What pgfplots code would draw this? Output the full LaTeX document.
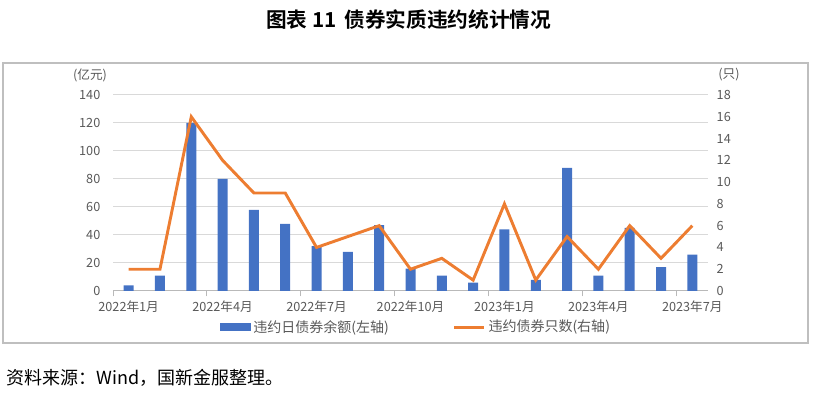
\documentclass[border=0pt]{standalone}
\usepackage{fontspec}
\setmainfont{Noto Sans CJK SC}[BoldFont={Noto Sans CJK SC Bold}]
\usepackage{pgfplots}
\usepackage{pgfplotstable}
\pgfplotsset{compat=1.18}
\definecolor{barblue}{HTML}{4472C4}
\definecolor{lineorange}{HTML}{ED7D31}
\definecolor{gridgray}{HTML}{D9D9D9}
\definecolor{ticktext}{HTML}{595959}
\definecolor{framegray}{HTML}{BFBFBF}
\pgfplotstableread{
x amt cnt
0 4 2
1 11 2
2 120 16
3 80 12
4 58 9
5 48 9
6 32 4
7 28 5
8 47 6
9 16 2
10 11 3
11 6 1
12 44 8
13 8 1
14 88 5
15 11 2
16 45 6
17 17 3
18 26 6
}\datatable
\begin{document}
\begin{tikzpicture}
\path[use as bounding box] (0pt,0pt) rectangle (609.75pt,299.25pt);
\draw[framegray, line width=0.8pt] (2.25pt,42pt) rectangle (606pt,252pt);
\node[font=\bfseries\fontsize{15.5}{18}\selectfont] at (306.5pt,284.25pt) {图表 11\, 债券实质违约统计情况};
\node[anchor=west, font=\fontsize{13.5}{16}\selectfont, inner sep=0pt] at (4.5pt,15.75pt) {资料来源：Wind，国新金服整理。};
\node[ticktext, font=\fontsize{9.5}{11}\selectfont] at (67.5pt,243pt) {(亿元)};
\node[ticktext, font=\fontsize{9.5}{11}\selectfont] at (546.75pt,243pt) {(只)};
\begin{axis}[
  at={(84.75pt,81pt)}, anchor=south west,
  width=446.25pt, height=147pt, scale only axis,
  xmin=-0.5, xmax=18.5, ymin=0, ymax=140,
  ytick={0,20,...,140},
  xtick={0,3,...,18},
  xticklabels={2022年1月,2022年4月,2022年7月,2022年10月,2023年1月,2023年4月,2023年7月},
  major tick length=0pt,
  axis x line*=bottom, axis y line*=left,
  y axis line style={draw=none},
  x axis line style={draw=gray!55, line width=0.75pt},
  ymajorgrids, grid style={gridgray, line width=0.75pt},
  tick style={draw=none},
  ticklabel style={ticktext, font=\fontsize{9.5}{11}\selectfont},
  /pgf/number format/assume math mode=true,
  xticklabel style={yshift=-4pt},
  yticklabel style={xshift=-6pt},
]
\addplot[ybar, bar width=7.5pt, fill=barblue, draw=none] table[x=x, y=amt] {\datatable};
\end{axis}
\begin{axis}[
  at={(84.75pt,81pt)}, anchor=south west,
  width=446.25pt, height=147pt, scale only axis,
  xmin=-0.5, xmax=18.5, ymin=0, ymax=18,
  ytick={0,2,...,18},
  xtick={-0.5,2.5,...,17.5}, xticklabels={},
  axis x line*=bottom, axis y line*=right,
  axis line style={draw=none},
  tick align=outside,
  major tick length=4pt,
  xtick style={draw=gray!55, line width=0.75pt},
  ytick style={draw=none},
  ticklabel style={ticktext, font=\fontsize{9.5}{11}\selectfont},
  /pgf/number format/assume math mode=true,
  yticklabel style={xshift=-1pt},
  legend style={at={(0.51,-0.184)}, anchor=center, draw=none, fill=none,
    legend columns=2, font=\fontsize{10.5}{12}\selectfont, text=ticktext,
    /tikz/every even column/.append style={column sep=46pt}},
  legend cell align=left,
]
\addlegendimage{legend image code/.code={\fill[barblue] (0pt,-2.6pt) rectangle (22.5pt,2.6pt);}}
\addlegendentry{违约日债券余额(左轴)}
\addplot[lineorange, line width=2.2pt, sharp plot, mark=none,
  legend image code/.code={\draw[lineorange,line width=2.2pt] (0pt,0pt) -- (22.5pt,0pt);}]
  table[x=x, y=cnt] {\datatable};
\addlegendentry{违约债券只数(右轴)}
\end{axis}
\end{tikzpicture}
\end{document}
